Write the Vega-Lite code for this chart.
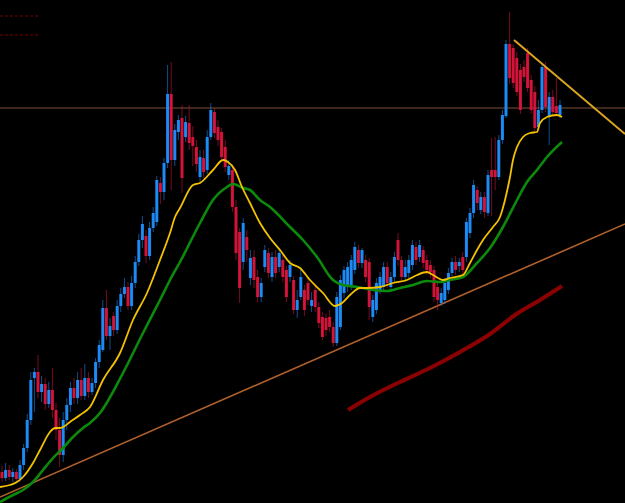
{
  "$schema": "https://vega.github.io/schema/vega-lite/v6.json",
  "width": 625,
  "height": 503,
  "autosize": {"type": "none"},
  "padding": 0,
  "background": "#000000",
  "config": {"view": {"stroke": null}, "scale": {"continuousPadding": 0}},
  "datasets": {
    "candles": [
      {"t":2,"o":472,"c":478,"h":466,"l":482},
      {"t":5.6,"o":478,"c":470,"h":463,"l":481},
      {"t":9.2,"o":470,"c":477,"h":465,"l":480},
      {"t":12.8,"o":477,"c":472,"h":468,"l":482},
      {"t":16.4,"o":472,"c":479,"h":469,"l":483},
      {"t":20,"o":479,"c":465,"h":460,"l":482},
      {"t":23.6,"o":465,"c":448,"h":444,"l":470},
      {"t":27.2,"o":448,"c":420,"h":414,"l":452},
      {"t":30.8,"o":420,"c":380,"h":372,"l":425},
      {"t":34.4,"o":378,"c":372,"h":368,"l":412},
      {"t":38,"o":372,"c":392,"h":355,"l":398},
      {"t":41.6,"o":392,"c":384,"h":376,"l":402},
      {"t":45.2,"o":384,"c":404,"h":378,"l":410},
      {"t":48.8,"o":404,"c":390,"h":382,"l":408},
      {"t":52.4,"o":390,"c":410,"h":368,"l":418},
      {"t":56,"o":410,"c":430,"h":403,"l":440},
      {"t":59.6,"o":430,"c":455,"h":418,"l":467},
      {"t":63.2,"o":455,"c":420,"h":412,"l":462},
      {"t":66.8,"o":420,"c":405,"h":398,"l":430},
      {"t":70.4,"o":405,"c":388,"h":382,"l":412},
      {"t":74,"o":388,"c":398,"h":378,"l":404},
      {"t":77.6,"o":398,"c":380,"h":372,"l":404},
      {"t":81.2,"o":380,"c":396,"h":368,"l":400},
      {"t":84.8,"o":396,"c":378,"h":364,"l":400},
      {"t":88.4,"o":378,"c":392,"h":372,"l":398},
      {"t":92,"o":392,"c":383,"h":378,"l":395},
      {"t":95.6,"o":383,"c":362,"h":358,"l":388},
      {"t":99.2,"o":362,"c":345,"h":340,"l":368},
      {"t":102.8,"o":350,"c":308,"h":300,"l":352},
      {"t":106.4,"o":308,"c":336,"h":290,"l":340},
      {"t":110,"o":336,"c":326,"h":318,"l":350},
      {"t":113.6,"o":316,"c":330,"h":312,"l":336},
      {"t":117.2,"o":330,"c":306,"h":300,"l":334},
      {"t":120.8,"o":306,"c":294,"h":288,"l":312},
      {"t":124.4,"o":294,"c":287,"h":278,"l":298},
      {"t":128,"o":287,"c":306,"h":282,"l":310},
      {"t":131.6,"o":306,"c":283,"h":276,"l":310},
      {"t":135.2,"o":283,"c":262,"h":256,"l":288},
      {"t":138.8,"o":262,"c":240,"h":234,"l":266},
      {"t":142.4,"o":240,"c":224,"h":216,"l":248},
      {"t":146,"o":236,"c":256,"h":230,"l":263},
      {"t":149.6,"o":256,"c":228,"h":222,"l":260},
      {"t":153.2,"o":228,"c":213,"h":207,"l":232},
      {"t":156.8,"o":222,"c":180,"h":176,"l":226},
      {"t":160.4,"o":183,"c":192,"h":177,"l":204},
      {"t":164,"o":192,"c":163,"h":158,"l":200},
      {"t":167.6,"o":163,"c":94,"h":65,"l":168},
      {"t":171.2,"o":94,"c":160,"h":62,"l":190},
      {"t":174.8,"o":160,"c":130,"h":124,"l":166},
      {"t":178.4,"o":132,"c":120,"h":115,"l":140},
      {"t":182,"o":118,"c":178,"h":105,"l":193},
      {"t":185.6,"o":137,"c":122,"h":116,"l":142},
      {"t":189.2,"o":123,"c":143,"h":105,"l":150},
      {"t":192.8,"o":137,"c":146,"h":126,"l":166},
      {"t":196.4,"o":147,"c":164,"h":140,"l":172},
      {"t":200,"o":177,"c":157,"h":150,"l":182},
      {"t":203.6,"o":158,"c":172,"h":150,"l":178},
      {"t":207.2,"o":170,"c":137,"h":130,"l":174},
      {"t":210.8,"o":137,"c":110,"h":103,"l":140},
      {"t":214.4,"o":112,"c":133,"h":108,"l":138},
      {"t":218,"o":127,"c":140,"h":120,"l":146},
      {"t":221.6,"o":132,"c":157,"h":128,"l":162},
      {"t":225.2,"o":147,"c":167,"h":140,"l":172},
      {"t":228.8,"o":175,"c":166,"h":160,"l":180},
      {"t":232.4,"o":170,"c":207,"h":165,"l":212},
      {"t":236,"o":207,"c":253,"h":200,"l":260},
      {"t":239.6,"o":232,"c":288,"h":228,"l":303},
      {"t":243.2,"o":262,"c":223,"h":218,"l":270},
      {"t":246.8,"o":237,"c":250,"h":230,"l":262},
      {"t":250.4,"o":278,"c":258,"h":250,"l":285},
      {"t":254,"o":257,"c":280,"h":250,"l":288},
      {"t":257.6,"o":277,"c":297,"h":270,"l":302},
      {"t":261.2,"o":297,"c":283,"h":278,"l":302},
      {"t":264.8,"o":267,"c":250,"h":245,"l":272},
      {"t":268.4,"o":253,"c":273,"h":248,"l":278},
      {"t":272,"o":277,"c":257,"h":252,"l":282},
      {"t":275.6,"o":257,"c":273,"h":250,"l":278},
      {"t":279.2,"o":267,"c":253,"h":248,"l":272},
      {"t":282.8,"o":260,"c":277,"h":255,"l":282},
      {"t":286.4,"o":270,"c":297,"h":266,"l":302},
      {"t":290,"o":277,"c":265,"h":260,"l":282},
      {"t":293.6,"o":280,"c":310,"h":276,"l":314},
      {"t":297.2,"o":310,"c":300,"h":290,"l":318},
      {"t":300.8,"o":297,"c":277,"h":270,"l":300},
      {"t":304.4,"o":290,"c":310,"h":285,"l":316},
      {"t":308,"o":283,"c":300,"h":278,"l":305},
      {"t":311.6,"o":306,"c":300,"h":292,"l":312},
      {"t":315.2,"o":290,"c":307,"h":286,"l":312},
      {"t":318.8,"o":307,"c":323,"h":302,"l":328},
      {"t":322.4,"o":317,"c":337,"h":312,"l":340},
      {"t":326,"o":318,"c":330,"h":314,"l":336},
      {"t":329.6,"o":317,"c":327,"h":310,"l":332},
      {"t":333.2,"o":327,"c":343,"h":322,"l":347},
      {"t":336.8,"o":343,"c":297,"h":292,"l":346},
      {"t":340.4,"o":327,"c":280,"h":275,"l":330},
      {"t":344,"o":293,"c":270,"h":266,"l":298},
      {"t":347.6,"o":287,"c":267,"h":262,"l":292},
      {"t":351.2,"o":287,"c":260,"h":255,"l":290},
      {"t":354.8,"o":270,"c":247,"h":242,"l":274},
      {"t":358.4,"o":250,"c":263,"h":245,"l":268},
      {"t":362,"o":263,"c":250,"h":248,"l":268},
      {"t":365.6,"o":260,"c":277,"h":255,"l":282},
      {"t":369.2,"o":262,"c":307,"h":258,"l":320},
      {"t":372.8,"o":317,"c":300,"h":295,"l":322},
      {"t":376.4,"o":310,"c":283,"h":278,"l":314},
      {"t":380,"o":290,"c":277,"h":272,"l":294},
      {"t":383.6,"o":287,"c":267,"h":262,"l":290},
      {"t":387.2,"o":267,"c":283,"h":262,"l":288},
      {"t":390.8,"o":287,"c":277,"h":272,"l":290},
      {"t":394.4,"o":277,"c":257,"h":252,"l":282},
      {"t":398,"o":240,"c":260,"h":233,"l":266},
      {"t":401.6,"o":260,"c":277,"h":256,"l":282},
      {"t":405.2,"o":277,"c":267,"h":260,"l":282},
      {"t":408.8,"o":273,"c":260,"h":255,"l":278},
      {"t":412.4,"o":265,"c":245,"h":240,"l":270},
      {"t":416,"o":247,"c":260,"h":242,"l":265},
      {"t":419.6,"o":257,"c":245,"h":240,"l":262},
      {"t":423.2,"o":250,"c":263,"h":246,"l":268},
      {"t":426.8,"o":260,"c":270,"h":255,"l":275},
      {"t":430.4,"o":265,"c":272,"h":260,"l":278},
      {"t":434,"o":270,"c":297,"h":266,"l":302},
      {"t":437.6,"o":287,"c":300,"h":282,"l":310},
      {"t":441.2,"o":303,"c":293,"h":288,"l":306},
      {"t":444.8,"o":300,"c":283,"h":278,"l":304},
      {"t":448.4,"o":290,"c":273,"h":268,"l":294},
      {"t":452,"o":273,"c":262,"h":258,"l":276},
      {"t":455.6,"o":262,"c":270,"h":256,"l":275},
      {"t":459.2,"o":266,"c":262,"h":258,"l":272},
      {"t":462.8,"o":257,"c":270,"h":252,"l":275},
      {"t":466.4,"o":257,"c":222,"h":218,"l":262},
      {"t":470,"o":233,"c":213,"h":208,"l":238},
      {"t":473.6,"o":213,"c":185,"h":180,"l":218},
      {"t":477.2,"o":190,"c":203,"h":186,"l":210},
      {"t":480.8,"o":210,"c":197,"h":192,"l":214},
      {"t":484.4,"o":197,"c":212,"h":192,"l":218},
      {"t":488,"o":213,"c":175,"h":170,"l":216},
      {"t":491.6,"o":170,"c":177,"h":138,"l":216},
      {"t":495.2,"o":170,"c":177,"h":137,"l":190},
      {"t":498.8,"o":177,"c":140,"h":135,"l":180},
      {"t":502.4,"o":140,"c":115,"h":110,"l":144},
      {"t":506,"o":116,"c":44,"h":40,"l":118},
      {"t":509.6,"o":44,"c":78,"h":12,"l":84},
      {"t":513.2,"o":48,"c":83,"h":44,"l":88},
      {"t":516.8,"o":58,"c":92,"h":52,"l":96},
      {"t":520.4,"o":70,"c":110,"h":64,"l":114},
      {"t":524,"o":67,"c":77,"h":60,"l":82},
      {"t":527.6,"o":53,"c":88,"h":48,"l":92},
      {"t":531.2,"o":80,"c":110,"h":75,"l":114},
      {"t":534.8,"o":92,"c":128,"h":86,"l":133},
      {"t":538.4,"o":127,"c":110,"h":100,"l":130},
      {"t":542,"o":110,"c":67,"h":63,"l":113},
      {"t":545.6,"o":67,"c":107,"h":62,"l":112},
      {"t":549.2,"o":117,"c":97,"h":92,"l":145},
      {"t":552.8,"o":97,"c":112,"h":90,"l":116},
      {"t":556.4,"o":106,"c":113,"h":78,"l":116},
      {"t":560,"o":115,"c":105,"h":100,"l":118}
    ],
    "yellow": [
      {"t":0,"v":487},{"t":10,"v":485},{"t":17,"v":482},{"t":23,"v":477},{"t":33,"v":463},{"t":40,"v":450},{"t":50,"v":432},{"t":55,"v":428},{"t":60,"v":428},{"t":63,"v":427},{"t":70,"v":422},{"t":80,"v":415},{"t":90,"v":407},{"t":103,"v":380},{"t":120,"v":353},{"t":133,"v":320},{"t":147,"v":293},{"t":160,"v":260},{"t":170,"v":233},{"t":175,"v":217},{"t":180,"v":208},{"t":193,"v":185},{"t":200,"v":183},{"t":213,"v":170},{"t":223,"v":160},{"t":228,"v":162},{"t":235,"v":170},{"t":242,"v":187},{"t":250,"v":203},{"t":260,"v":223},{"t":270,"v":238},{"t":280,"v":250},{"t":290,"v":263},{"t":300,"v":268},{"t":310,"v":280},{"t":323,"v":293},{"t":335,"v":306},{"t":342,"v":303},{"t":350,"v":295},{"t":360,"v":288},{"t":367,"v":288},{"t":380,"v":287},{"t":393,"v":283},{"t":407,"v":280},{"t":417,"v":275},{"t":427,"v":272},{"t":433,"v":275},{"t":443,"v":280},{"t":450,"v":278},{"t":463,"v":275},{"t":470,"v":263},{"t":477,"v":250},{"t":483,"v":240},{"t":493,"v":227},{"t":500,"v":217},{"t":505,"v":200},{"t":510,"v":177},{"t":513,"v":160},{"t":517,"v":147},{"t":523,"v":137},{"t":530,"v":133},{"t":537,"v":132},{"t":540,"v":123},{"t":547,"v":117},{"t":557,"v":115},{"t":562,"v":117}
    ],
    "green": [
      {"t":0,"v":502},{"t":13,"v":495},{"t":23,"v":490},{"t":33,"v":482},{"t":43,"v":470},{"t":53,"v":458},{"t":63,"v":448},{"t":73,"v":437},{"t":83,"v":428},{"t":90,"v":423},{"t":100,"v":413},{"t":123,"v":373},{"t":143,"v":333},{"t":160,"v":300},{"t":170,"v":280},{"t":180,"v":262},{"t":200,"v":223},{"t":213,"v":200},{"t":227,"v":187},{"t":233,"v":184},{"t":243,"v":188},{"t":250,"v":190},{"t":260,"v":200},{"t":270,"v":207},{"t":290,"v":227},{"t":303,"v":240},{"t":317,"v":257},{"t":333,"v":280},{"t":343,"v":285},{"t":357,"v":287},{"t":373,"v":290},{"t":387,"v":291},{"t":400,"v":288},{"t":413,"v":285},{"t":427,"v":281},{"t":440,"v":282},{"t":450,"v":280},{"t":463,"v":277},{"t":477,"v":263},{"t":490,"v":248},{"t":503,"v":227},{"t":517,"v":200},{"t":527,"v":182},{"t":537,"v":170},{"t":547,"v":157},{"t":562,"v":142}
    ],
    "slow": [
      {"t":348,"v":410},{"t":370,"v":397},{"t":400,"v":382},{"t":430,"v":368},{"t":460,"v":352},{"t":490,"v":334},{"t":515,"v":315},{"t":540,"v":300},{"t":562,"v":286}
    ],
    "support": [{"t":0,"v":497},{"t":625,"v":224}],
    "resistance": [{"t":514,"v":40},{"t":625,"v":134}],
    "level": [{"t":0,"v":108},{"t":625,"v":108}],
    "legend": [
      {"k":"a","t":0,"v":16},{"k":"a","t":40,"v":16},
      {"k":"b","t":0,"v":35},{"k":"b","t":40,"v":35}
    ]
  },
  "layer": [
    {
      "data": {"name": "level"},
      "mark": {"type": "line", "color": "#8a5a3c", "strokeWidth": 1.2, "opacity": 0.9},
      "encoding": {
        "x": {"field": "t", "type": "quantitative", "scale": {"domain": [0, 625], "nice": false, "zero": false, "padding": 0}, "axis": null},
        "y": {"field": "v", "type": "quantitative", "scale": {"domain": [0, 503], "reverse": true, "nice": false, "zero": false, "padding": 0}, "axis": null}
      }
    },
    {
      "data": {"name": "support"},
      "mark": {"type": "line", "color": "#b0602a", "strokeWidth": 1.6},
      "encoding": {
        "x": {"field": "t", "type": "quantitative", "axis": null},
        "y": {"field": "v", "type": "quantitative", "axis": null}
      }
    },
    {
      "data": {"name": "slow"},
      "mark": {"type": "line", "color": "#8b0000", "strokeWidth": 4, "interpolate": "monotone"},
      "encoding": {
        "x": {"field": "t", "type": "quantitative", "axis": null},
        "y": {"field": "v", "type": "quantitative", "axis": null}
      }
    },
    {
      "data": {"name": "candles"},
      "mark": {"type": "rule", "strokeWidth": 1, "opacity": 0.55},
      "encoding": {
        "x": {"field": "t", "type": "quantitative", "axis": null},
        "y": {"field": "h", "type": "quantitative", "axis": null},
        "y2": {"field": "l"},
        "color": {"condition": {"test": "datum.c < datum.o", "value": "#1e90ff"}, "value": "#dc143c"}
      }
    },
    {
      "data": {"name": "candles"},
      "mark": {"type": "bar", "size": 3, "opacity": 0.95},
      "encoding": {
        "x": {"field": "t", "type": "quantitative", "axis": null},
        "y": {"field": "o", "type": "quantitative", "axis": null},
        "y2": {"field": "c"},
        "color": {"condition": {"test": "datum.c < datum.o", "value": "#1e90ff"}, "value": "#dc143c"}
      }
    },
    {
      "data": {"name": "green"},
      "mark": {"type": "line", "color": "#0b8a0b", "strokeWidth": 2.6, "interpolate": "monotone"},
      "encoding": {
        "x": {"field": "t", "type": "quantitative", "axis": null},
        "y": {"field": "v", "type": "quantitative", "axis": null}
      }
    },
    {
      "data": {"name": "yellow"},
      "mark": {"type": "line", "color": "#f2c200", "strokeWidth": 1.8, "interpolate": "monotone"},
      "encoding": {
        "x": {"field": "t", "type": "quantitative", "axis": null},
        "y": {"field": "v", "type": "quantitative", "axis": null}
      }
    },
    {
      "data": {"name": "resistance"},
      "mark": {"type": "line", "color": "#daa520", "strokeWidth": 2},
      "encoding": {
        "x": {"field": "t", "type": "quantitative", "axis": null},
        "y": {"field": "v", "type": "quantitative", "axis": null}
      }
    },
    {
      "data": {"name": "legend"},
      "mark": {"type": "line", "color": "#7a0000", "strokeWidth": 1, "strokeDash": [3, 2]},
      "encoding": {
        "x": {"field": "t", "type": "quantitative", "axis": null},
        "y": {"field": "v", "type": "quantitative", "axis": null},
        "detail": {"field": "k"}
      }
    }
  ]
}
